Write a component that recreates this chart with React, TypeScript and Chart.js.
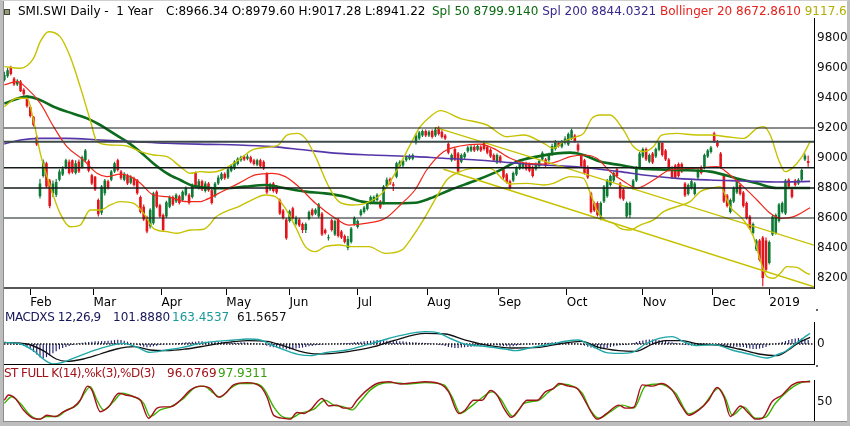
import React, { useEffect, useRef } from 'react';
import { Chart, registerables } from 'chart.js';
Chart.register(...registerables);

const FONT = 'DejaVu Sans';
const X_MIN = -0.1;
const X_MAX = 249.8;

const monthTickIdx = [8, 27.5, 48.5, 68.5, 88, 109, 130.5, 152.5, 173.5, 197, 218.5, 236];
const monthLabels = ['Feb', 'Mar', 'Apr', 'May', 'Jun', 'Jul', 'Aug', 'Sep', 'Oct', 'Nov', 'Dec', '2019'];
const priceTicks = [8200, 8400, 8600, 8800, 9000, 9200, 9400, 9600, 9800];
const macdTicks = [0];
const stochTicks = [50];
const levels = [9200, 9108, 8935, 8800, 8600];

const opens = [
  9520,9545,9605,9530,9490,9510,9455,9410,9340,9275,
  9140,8745,8880,8965,8850,8765,8755,8855,8890,8935,
  8975,8985,8900,8975,8940,8985,8980,8885,8875,8720,
  8635,8765,8845,8855,8910,8985,8910,8855,8885,8835,
  8865,8855,8740,8675,8605,8545,8565,8775,8685,8620,
  8610,8675,8740,8710,8745,8720,8755,8755,8740,8900,
  8800,8845,8780,8830,8785,8745,8830,8860,8895,8870,
  8915,8930,8960,8985,9010,8995,9005,8985,8955,8985,
  8975,8895,8790,8830,8810,8720,8650,8590,8580,8665,
  8560,8590,8560,8520,8595,8655,8630,8610,8630,8520,
  8465,8585,8490,8590,8510,8480,8400,8440,8560,8540,
  8620,8640,8660,8700,8710,8720,8710,8700,8810,8860,
  8825,8875,8945,8950,8985,8995,8995,9100,9130,9150,
  9180,9150,9180,9150,9200,9175,9150,9095,8985,9060,
  9030,8975,9005,9045,9050,9075,9055,9075,9105,9075,
  9055,9020,8970,9010,8925,8890,8845,8850,8890,8930,
  8935,8965,8960,8940,8925,8945,8990,8990,8985,9025,
  9060,9100,9075,9100,9090,9130,9150,9090,9020,8985,
  8940,8765,8700,8700,8610,8710,8745,8820,8850,8925,
  8830,8790,8610,8620,8800,8850,8935,9010,9060,8975,
  9030,9010,9055,9100,9050,8990,8935,8950,8960,8960,
  8830,8760,8800,8760,8870,8940,8935,9010,9040,9165,
  9110,9030,8880,8750,8640,8710,8770,8820,8770,8700,
  8610,8500,8390,8450,8470,8450,8300,8490,8500,8580,
  8640,8630,8855,8790,8850,8830,8855,8990,8979.6,
];
const highs = [
  9575,9600,9615,9540,9525,9520,9465,9420,9350,9280,
  9150,8860,8990,8975,8860,8850,8860,8925,8945,8995,
  8990,8990,8985,8990,9015,9060,8990,8895,8880,8730,
  8820,8860,8855,8920,8975,8995,8920,8905,8895,8885,
  8875,8860,8750,8690,8615,8665,8775,8785,8695,8630,
  8715,8750,8750,8765,8755,8785,8810,8765,8830,8910,
  8860,8855,8845,8840,8795,8840,8885,8905,8905,8935,
  8960,8985,9005,9015,9020,9025,9015,8995,8995,8995,
  8985,8905,8835,8840,8820,8730,8660,8600,8655,8675,
  8615,8600,8570,8570,8650,8665,8665,8700,8640,8530,
  8490,8595,8590,8600,8520,8490,8480,8540,8610,8590,
  8660,8680,8705,8750,8750,8765,8720,8820,8870,8870,
  8840,8975,8985,8990,9015,9025,9030,9165,9180,9190,
  9190,9185,9190,9205,9212,9185,9160,9105,9030,9070,
  9040,9030,9040,9080,9085,9085,9090,9085,9115,9085,
  9065,9030,9030,9020,8935,8900,8855,8910,8945,8970,
  8975,8975,8970,8950,8970,8990,9045,9000,9035,9095,
  9120,9110,9120,9145,9170,9195,9160,9100,9030,8995,
  8950,8775,8710,8710,8710,8820,8860,8890,8910,8935,
  8840,8800,8710,8710,8860,8945,9040,9070,9070,9030,
  9040,9070,9115,9110,9060,9000,8945,8960,8970,8970,
  8840,8830,8855,8840,8930,8950,9030,9060,9080,9175,
  9120,9040,8890,8760,8730,8810,8860,8830,8780,8710,
  8620,8570,8460,8460,8480,8470,8450,8620,8630,8700,
  8710,8860,8865,8800,8860,8865,8930,9030,9017.28,
];
const lows = [
  9510,9535,9550,9480,9480,9440,9415,9335,9270,9210,
  9080,8730,8870,8800,8665,8740,8740,8845,8880,8925,
  8890,8895,8890,8900,8930,8975,8905,8820,8780,8610,
  8620,8750,8790,8845,8900,8910,8855,8845,8820,8825,
  8810,8755,8630,8580,8498,8530,8555,8665,8600,8510,
  8600,8665,8680,8700,8690,8710,8745,8690,8730,8800,
  8790,8780,8770,8775,8690,8735,8820,8850,8855,8860,
  8905,8920,8950,8975,8980,8985,8965,8950,8945,8935,
  8920,8760,8780,8770,8760,8620,8590,8455,8570,8590,
  8550,8540,8500,8500,8585,8610,8620,8600,8480,8490,
  8450,8510,8480,8470,8460,8430,8385,8430,8550,8530,
  8610,8630,8650,8690,8700,8710,8660,8690,8800,8820,
  8780,8865,8935,8940,8975,8985,8985,9090,9120,9140,
  9140,9140,9130,9140,9150,9130,9120,9025,8975,8980,
  8900,8965,8995,9035,9040,9040,9045,9040,9050,9025,
  9000,8975,8960,8965,8860,8830,8790,8840,8880,8920,
  8925,8915,8905,8870,8915,8935,8980,8940,8975,9015,
  9050,9070,9065,9090,9080,9120,9100,9040,8935,8890,
  8860,8630,8640,8610,8585,8700,8735,8810,8840,8870,
  8725,8715,8600,8600,8790,8840,8925,9000,8980,8965,
  8960,9000,9045,9010,8980,8910,8860,8860,8870,8900,
  8740,8750,8790,8750,8860,8890,8925,9000,9030,9100,
  9070,8930,8700,8670,8630,8700,8760,8750,8670,8590,
  8520,8490,8380,8310,8145,8240,8290,8480,8490,8570,
  8630,8620,8800,8730,8810,8820,8845,8980,8941.22,
];
const closes = [
  9553,9585,9560,9490,9515,9445,9425,9345,9280,9220,
  9090,8830,8975,8810,8680,8830,8840,8910,8930,8985,
  8900,8905,8965,8910,9005,9050,8915,8830,8790,8625,
  8810,8850,8800,8910,8965,8920,8865,8895,8830,8875,
  8820,8765,8640,8590,8510,8655,8765,8675,8610,8520,
  8705,8740,8690,8755,8700,8775,8800,8700,8820,8810,
  8845,8790,8830,8785,8700,8830,8870,8895,8865,8925,
  8950,8975,8995,9005,8990,9010,8975,8960,8985,8945,
  8930,8770,8825,8780,8770,8630,8600,8465,8645,8600,
  8600,8550,8520,8560,8640,8620,8655,8690,8490,8500,
  8470,8520,8580,8480,8470,8440,8460,8530,8600,8580,
  8650,8670,8695,8740,8740,8755,8670,8810,8855,8830,
  8815,8965,8975,8980,9005,9015,9020,9150,9170,9180,
  9150,9175,9140,9190,9160,9140,9130,9035,9020,8990,
  8910,9020,9030,9070,9075,9050,9080,9050,9060,9035,
  9010,8985,9020,8975,8870,8840,8800,8900,8935,8960,
  8965,8925,8915,8880,8960,8980,9035,8950,9025,9080,
  9110,9080,9110,9130,9160,9185,9110,9050,8945,8900,
  8870,8640,8650,8620,8700,8810,8850,8880,8900,8880,
  8735,8725,8700,8700,8850,8935,9030,9060,8990,9020,
  8970,9060,9105,9020,8990,8920,8870,8870,8880,8910,
  8750,8820,8845,8830,8920,8900,9020,9050,9070,9110,
  9080,8940,8710,8680,8720,8800,8850,8760,8680,8600,
  8530,8560,8450,8320,8200,8255,8440,8610,8620,8690,
  8700,8850,8810,8740,8820,8855,8920,9015,8966.34,
];

const sma50 = [[0,9364],[7,9409],[11,9387],[15.2,9342],[19.3,9309],[25.5,9264],[29.6,9220],[33.7,9164],[37.8,9109],[41.9,9042],[46,8964],[50.2,8898],[54.3,8853],[58.4,8813],[63.5,8800],[68.2,8798],[74.3,8809],[80.5,8820],[86.7,8798],[92.9,8776],[99,8764],[105.2,8742],[110.4,8709],[117.6,8698],[126.8,8702],[131.4,8731],[137.5,8787],[145.8,8853],[152,8909],[158.1,8976],[164.3,9009],[170.5,9031],[174.6,9036],[178.7,9020],[183.8,8976],[190,8953],[196.2,8931],[207.5,8920],[217.8,8909],[226,8864],[232.2,8831],[238.3,8800],[248.6,8800]];
const sma200 = [[0,9093],[4.9,9120],[11.1,9131],[19.3,9131],[29.6,9120],[39.9,9109],[50.2,9098],[63.5,9091],[72.3,9087],[82.6,9076],[92.9,9053],[103.2,9031],[113.4,9020],[126.8,9009],[135.5,8998],[145.8,8987],[156.1,8969],[166.4,8953],[176.6,8942],[190,8909],[197.2,8887],[207.5,8864],[217.8,8853],[228,8847],[238.3,8840],[248.6,8844]];
const bbMid = [[0,9487],[3.9,9509],[7,9464],[11.1,9364],[15.2,9209],[19.3,9076],[24.4,8987],[28.6,8898],[31.6,8876],[35.8,8893],[38.9,8876],[42,8831],[46,8753],[50.2,8742],[56.3,8709],[60.5,8709],[62,8720],[66.1,8764],[72.3,8831],[77.4,8887],[82.6,8898],[86.7,8876],[90.8,8809],[96,8698],[102.1,8598],[106.2,8553],[111.4,8564],[117.6,8598],[122.7,8698],[126.8,8790],[130.3,8920],[135.5,9042],[140.6,9080],[146.8,9093],[150.9,9064],[156.1,8998],[161.2,8964],[167.4,8960],[170.5,8976],[174.6,9009],[178.7,9020],[182.8,8998],[186.9,8910],[192,8831],[195.1,8798],[200.3,8853],[205.4,8920],[212.6,8931],[219.8,8942],[223.9,8887],[228,8809],[232.2,8720],[236.3,8631],[239.4,8598],[243.5,8609],[248.6,8668]];
const bbUpper = [[0,9609],[4.9,9598],[9,9664],[11.1,9776],[13.6,9842],[17.2,9809],[20.3,9676],[23.4,9476],[26.5,9253],[28.6,9109],[32.7,9087],[37.8,9080],[42,9042],[46,9020],[50.2,9009],[54.3,8942],[57.4,8898],[60.5,8909],[63.5,8905],[67.1,8920],[72.3,8987],[76.4,9053],[82.6,9076],[84.6,9087],[87.2,9153],[90.3,9164],[92.9,9131],[96,9009],[100.1,8809],[103.2,8709],[107.3,8687],[111.4,8698],[116.5,8764],[121.7,8942],[125.2,9087],[128.3,9209],[131.4,9276],[134.5,9316],[140.6,9264],[148.9,9220],[155,9142],[160.2,9153],[166.4,9098],[169.4,9064],[172.5,9109],[176.6,9142],[178.7,9164],[181.3,9264],[183.8,9287],[186.9,9287],[191,9187],[194.1,9076],[197.2,9042],[200.3,9076],[202.8,9153],[207.5,9164],[213.6,9153],[217.8,9153],[222.9,9142],[228.1,9131],[232.2,9198],[234.2,9209],[236.3,9153],[238.9,8987],[240.9,8909],[243,8931],[246.1,9009],[248.6,9109]];
const bbLower = [[0,9342],[3.9,9398],[7,9398],[9,9253],[11.1,9031],[14.2,8809],[17.2,8631],[20.3,8542],[23.4,8553],[26.5,8653],[29.6,8653],[32.7,8687],[35.8,8709],[39.9,8698],[43,8631],[46,8531],[50.2,8509],[53.3,8498],[57.4,8520],[61.5,8525],[63.5,8560],[65.1,8604],[68.2,8642],[72.3,8676],[77.4,8731],[80.5,8753],[83.6,8742],[86.7,8664],[89.8,8542],[92.9,8409],[96,8376],[99,8409],[103.2,8420],[107.3,8409],[112.4,8409],[117.6,8364],[122.7,8387],[125.2,8453],[129.3,8587],[133.4,8742],[136.5,8853],[140.6,8909],[144.8,8931],[149.9,8931],[154,8853],[156.1,8827],[161.2,8831],[166.4,8820],[169.4,8831],[174.6,8876],[178.7,8864],[180.8,8764],[182.8,8653],[184.9,8591],[188,8564],[190,8531],[193.1,8520],[196.2,8553],[200.3,8587],[203.4,8642],[207.5,8676],[211.6,8709],[214.7,8776],[217.8,8798],[220.9,8809],[223.9,8676],[228,8587],[231.1,8476],[233.2,8320],[235.3,8209],[237.3,8198],[239.4,8231],[241.4,8276],[244.5,8271],[247.6,8231],[248.6,8224]];
const trendUpper = [[133, 9204], [249.8, 8419]];
const trendLower = [[135.5, 8925], [249.8, 8141]];

const macdLine = [[0,25],[5,0],[9,-101],[12,-228],[15,-304],[18,-279],[22,-203],[27.5,-101],[32.7,-25],[36.8,10],[41,-51],[45,-127],[50,-91],[55,-51],[60.5,10],[65.6,41],[70.8,61],[75,76],[79,61],[83,-25],[87,-101],[91,-162],[94.4,-177],[99.5,-127],[105.7,-91],[112,-10],[117,61],[122,127],[129.9,188],[134,167],[138,76],[142,0],[148,-35],[154.6,-76],[157.7,-101],[162.8,-51],[169,0],[173,41],[177,61],[181,-25],[185.5,-127],[189.6,-142],[193.7,-127],[197.8,0],[202,86],[206,112],[210,25],[214,-25],[219,-10],[224.5,-91],[229.7,-152],[235.3,-213],[239,-152],[241,-110],[244,0],[246.5,90],[248.6,163]];
const signalLine = [[0,25],[7,0],[12,-101],[16,-228],[19.3,-264],[24.4,-228],[29.6,-152],[34.7,-76],[40,-41],[45,-91],[50,-101],[56,-76],[62.5,-25],[68.7,25],[75,51],[81,41],[86,-25],[91.3,-112],[96.5,-152],[101.6,-142],[107.8,-101],[114,-41],[120,51],[129.9,160],[136,152],[142,61],[148,-10],[156.7,-61],[165,-51],[171,0],[178,41],[183.4,-51],[189.6,-101],[194.7,-112],[200,0],[204,51],[209,51],[214,0],[220,-15],[226.6,-76],[232.8,-152],[238.4,-177],[241.9,-91],[245,20],[248.6,100]];
const macdHist = [
  0,-3,-5,-8,-10,-15,-30,-50,-80,-120,
  -160,-200,-220,-200,-170,-140,-110,-80,-60,-45,
  -30,-15,-5,10,20,25,30,35,40,40,
  45,45,50,55,60,66,60,50,35,20,
  5,-10,-25,-40,-50,-45,-35,-25,-15,-10,
  -5,0,5,10,15,20,25,30,35,35,
  40,40,35,35,30,30,35,35,30,25,
  25,20,20,25,25,20,15,10,5,0,
  -10,-25,-40,-50,-55,-60,-70,-80,-80,-75,
  -70,-60,-55,-45,-35,-30,-20,-15,-10,-5,
  0,5,5,5,10,10,15,20,25,30,
  35,40,45,50,55,60,60,55,50,50,
  50,45,40,40,35,30,25,25,20,20,
  15,10,5,0,-10,-20,-30,-45,-55,-60,
  -60,-55,-50,-45,-40,-35,-30,-30,-25,-25,
  -20,-20,-20,-25,-30,-35,-40,-35,-25,-15,
  -5,0,5,10,10,15,15,20,20,25,
  30,30,25,20,20,15,10,0,-10,-25,
  -40,-55,-65,-75,-80,-70,-60,-45,-35,-25,
  -20,-15,-10,0,15,30,45,55,65,70,
  70,65,60,55,45,35,25,15,5,-5,
  -15,-20,-25,-25,-25,-20,-15,-10,-10,-5,
  -10,-15,-25,-30,-35,-40,-40,-45,-45,-60,
  -70,-75,-75,-70,-60,-45,-20,-5,10,20,
  30,45,60,75,85,90,85,75,62,
];

const stochK = [[0,54],[1.3,66],[3.4,58],[5.9,32],[9,13],[11.1,11],[13.1,20],[15.7,17],[18.3,28],[21.4,39],[23.4,54],[25.7,86],[27,77],[29.6,28],[32.2,39],[35.3,70],[37.3,66],[39.9,62],[42,54],[44.5,13],[47.1,36],[49.1,39],[51.2,39],[54.3,54],[57.4,77],[60.5,86],[63.5,81],[66.1,61],[68.7,73],[70.7,89],[74.9,94],[79,85],[81,62],[83.1,20],[86.2,13],[88.2,11],[90.3,26],[92.4,24],[94.4,32],[98,58],[100.1,41],[102.6,43],[104.7,36],[106.8,36],[108.8,54],[111.9,77],[115,92],[118.6,96],[122.2,91],[126.3,94],[129.9,96],[135,89],[137.1,73],[140.2,24],[142.2,32],[144.8,54],[147.4,54],[150,76],[152,66],[154.1,36],[156.4,15],[158.7,32],[161.3,54],[164.4,54],[166.9,73],[169.5,81],[171.1,92],[174.1,86],[176.7,81],[179.3,51],[181.3,24],[182.9,11],[185.9,24],[189.6,43],[191.6,36],[194.2,38],[196.8,89],[199.9,86],[202.9,92],[206,77],[209.1,39],[211.2,20],[214.3,32],[217.3,54],[219.9,83],[222,62],[224,17],[227.1,41],[229.7,24],[231.8,11],[233.8,13],[236.9,51],[240,66],[243.1,89],[246.2,96],[248.6,96]];
const stochD = [[0,47],[2.3,62],[4.9,47],[8,20],[10.6,11],[13.1,17],[16.2,17],[19.3,32],[22.4,43],[25,73],[26.5,85],[28.6,54],[30.6,32],[33.7,51],[36.3,70],[39.9,62],[43,47],[45,17],[48.1,32],[51.2,39],[55.3,58],[58.4,81],[61.5,86],[64.6,70],[66.6,61],[69.7,81],[72.8,92],[76.9,92],[80,81],[83.1,39],[85.7,17],[88.2,13],[91.3,24],[95.4,33],[99,54],[101.6,43],[104.7,39],[107.3,32],[109.8,51],[112.9,77],[116,91],[120.1,94],[124.2,91],[129.9,94],[135.6,89],[138.1,62],[140.7,24],[143.8,39],[146.4,54],[150.5,73],[153,58],[156.9,17],[160.3,47],[164.9,54],[168,73],[172.1,91],[175.7,85],[178.3,70],[180.8,32],[183.4,13],[187,28],[190.6,43],[194.2,36],[197.8,86],[201.9,91],[207.1,70],[211.2,23],[215.3,39],[220.4,81],[222.5,58],[224.6,20],[228.1,39],[231.8,13],[234.8,15],[237.9,47],[242,77],[245.1,92],[248.6,98]];

const UP = '#0e7a35';
const DOWN = '#e4141c';
const OLIVE = '#c6c200';

const pts = (arr: number[][]) => arr.map(([x, y]) => ({ x, y }));

const zeroPad = (s: any) => {
  s.paddingTop = 0; s.paddingBottom = 0; s.paddingLeft = 0; s.paddingRight = 0;
};

function rightAxis(min: number, max: number, ticks: number[]) {
  return {
    type: 'linear', position: 'right', min, max,
    afterBuildTicks: (s: any) => { s.ticks = ticks.map((v) => ({ value: v })); },
    afterFit: (s: any) => { s.width = 36; zeroPad(s); },
    grid: { display: false, drawTicks: false },
    border: { display: true, color: '#000', width: 1 },
    ticks: { padding: 3, color: '#111', font: { family: FONT, size: 12 }, callback: (v: any) => String(v) },
  };
}

function hiddenX(showBorder: boolean) {
  return {
    type: 'linear', min: X_MIN, max: X_MAX, offset: false,
    display: showBorder,
    afterFit: (s: any) => { s.height = 0; zeroPad(s); },
    grid: { display: false, drawTicks: false, offset: false },
    border: { display: showBorder, color: '#000', width: 1 },
    ticks: { display: false },
  };
}

function line(data: number[][], color: string, width: number, order = 1, extra: any = {}) {
  return {
    type: 'line', data: pts(data), borderColor: color, borderWidth: width,
    pointRadius: 0, cubicInterpolationMode: 'monotone', fill: false, order, ...extra,
  };
}

const baseOpts = {
  responsive: false, maintainAspectRatio: false, animation: false, events: [],
  plugins: { legend: { display: false }, tooltip: { enabled: false } },
};

export default function App() {
  const mainRef = useRef<HTMLCanvasElement>(null);
  const macdRef = useRef<HTMLCanvasElement>(null);
  const stochRef = useRef<HTMLCanvasElement>(null);

  useEffect(() => {
    document.body.style.margin = '0';
    Chart.defaults.font.family = FONT;
    const candleColor = (ctx: any) => (closes[ctx.dataIndex] >= opens[ctx.dataIndex] ? UP : DOWN);

    const main = new Chart(mainRef.current as HTMLCanvasElement, {
      type: 'line',
      data: {
        datasets: [
          ...levels.map((lv, k) => ({
            type: 'line', data: [{ x: X_MIN, y: lv }, { x: X_MAX, y: lv }],
            borderColor: k === 1 ? '#3e4a4a' : '#141a1a', borderWidth: k === 1 ? 2 : (k === 2 || k === 3 ? 1.5 : 1.2),
            pointRadius: 0, order: 2,
          })),
          line(trendUpper, OLIVE, 1.4, 3, { cubicInterpolationMode: 'default', tension: 0 }),
          line(trendLower, OLIVE, 1.4, 3, { cubicInterpolationMode: 'default', tension: 0 }),
          line(bbUpper, OLIVE, 1.4, 3),
          line(bbLower, OLIVE, 1.4, 3),
          line(bbMid, '#f0281c', 1.2, 3),
          line(sma200, '#5436a8', 1.6, 3),
          line(sma50, '#0d6b1e', 2.6, 3),
          {
            type: 'bar', data: closes.map((_, i) => ({ x: i, y: [lows[i], highs[i]] })),
            backgroundColor: candleColor, borderWidth: 0, grouped: false,
            categoryPercentage: 1, barPercentage: 0.36, order: 20,
          },
          {
            type: 'bar', data: closes.map((c, i) => ({ x: i, y: [opens[i], c] })),
            backgroundColor: candleColor, borderWidth: 0, grouped: false, minBarLength: 1,
            categoryPercentage: 1, barPercentage: 0.8, order: 19,
          },
        ] as any,
      },
      options: {
        ...baseOpts,
        layout: { padding: { left: 4, top: 18, right: 0, bottom: 0 } },
        scales: {
          x: {
            type: 'linear', min: X_MIN, max: X_MAX, offset: false,
            afterBuildTicks: (s: any) => { s.ticks = monthTickIdx.map((v) => ({ value: v })); },
            afterFit: (s: any) => { s.height = 24; zeroPad(s); },
            grid: { display: true, drawOnChartArea: false, drawTicks: true, tickLength: 7, color: '#000', lineWidth: 1, offset: false },
            border: { display: true, color: '#555', width: 2 },
            ticks: {
              autoSkip: false, maxRotation: 0, minRotation: 0, align: 'start', padding: 1,
              color: '#000', font: { family: FONT, size: 12 },
              callback: (_v: any, i: number) => monthLabels[i],
            },
          },
          y: rightAxis(8133.3, 9933.3, priceTicks),
        },
      } as any,
    });

    const macd = new Chart(macdRef.current as HTMLCanvasElement, {
      type: 'line',
      data: {
        datasets: [
          {
            type: 'bar', data: macdHist.map((v, i) => ({ x: i, y: v })),
            backgroundColor: '#22226e', borderWidth: 0, grouped: false,
            categoryPercentage: 1, barPercentage: 0.36, order: 20,
          },
          {
            type: 'line', data: [{ x: X_MIN, y: 0 }, { x: X_MAX, y: 0 }],
            borderColor: '#111', borderWidth: 1.4, borderDash: [1.5, 1.5], pointRadius: 0, order: 5,
          },
          line(signalLine, '#111', 1.3, 2),
          line(macdLine, '#1fa6a6', 1.4, 1),
        ] as any,
      },
      options: {
        ...baseOpts,
        layout: { padding: { left: 4, top: 22, right: 0, bottom: 6 } },
        scales: { x: hiddenX(true), y: rightAxis(-304, 334.4, macdTicks) },
      } as any,
    });

    const stoch = new Chart(stochRef.current as HTMLCanvasElement, {
      type: 'line',
      data: {
        datasets: [
          line(stochD, '#38b400', 1.4, 2),
          line(stochK, '#a3121a', 1.4, 1),
        ] as any,
      },
      options: {
        ...baseOpts,
        layout: { padding: { left: 4, top: 12, right: 0, bottom: 2 } },
        scales: { x: hiddenX(false), y: rightAxis(0, 100, stochTicks) },
      } as any,
    });

    return () => { main.destroy(); macd.destroy(); stoch.destroy(); };
  }, []);

  const txt = (left: number, top: number, color: string, text: string, extra: any = {}) => (
    <span style={{ position: 'absolute', left, top, color, whiteSpace: 'pre', ...extra }}>{text}</span>
  );

  return (
    <div style={{ position: 'relative', width: 850, height: 426, overflow: 'hidden', background: '#fff', fontFamily: FONT, fontSize: 12, lineHeight: '14px' }}>
      <canvas ref={mainRef} width={850} height={312} style={{ position: 'absolute', left: 0, top: 0 }} />
      <canvas ref={macdRef} width={850} height={70} style={{ position: 'absolute', left: 0, top: 300 }} />
      <canvas ref={stochRef} width={850} height={58} style={{ position: 'absolute', left: 0, top: 368 }} />

      <div style={{ position: 'absolute', left: 4, top: 9, width: 4, height: 4, background: '#9a9a70', border: '1px solid #444' }} />
      {txt(18, 4, '#000', 'SMI.SWI Daily -  1 Year')}
      {txt(166, 4, '#000', 'C:8966.34 O:8979.60 H:9017.28 L:8941.22')}
      <span style={{ position: 'absolute', left: 432, top: 4, whiteSpace: 'pre' }}>
        <span style={{ color: '#0a6a10' }}>Spl 50 8799.9140 </span>
        <span style={{ color: '#38288a' }}>Spl 200 8844.0321 </span>
        <span style={{ color: '#e8201c' }}>Bollinger 20 8672.8610 </span>
        <span style={{ color: '#b2ae00' }}>9117.6</span>
      </span>

      {txt(5, 310, '#16165a', 'MACDXS 12,26,9', { letterSpacing: '-0.4px' })}
      {txt(113, 310, '#16165a', '101.8880')}
      {txt(172, 310, '#1a9a9a', '163.4537')}
      {txt(237, 310, '#111', '61.5657')}

      {txt(4, 366, '#a3121a', 'ST FULL K(14),%k(3),%D(3)', { letterSpacing: '-0.55px' })}
      {txt(167, 366, '#a3121a', '96.0769')}
      {txt(218, 366, '#38a010', '97.9311')}

      <div style={{ position: 'absolute', left: 816, top: 309, width: 2, height: 2, background: '#333', borderRadius: 1 }} />
      <div style={{ position: 'absolute', left: 816, top: 365, width: 2, height: 2, background: '#333', borderRadius: 1 }} />

      <div style={{
        position: 'absolute', left: 0, top: 0, width: 850, height: 426, boxSizing: 'border-box', pointerEvents: 'none',
        borderLeft: '3px solid #bdbdbd', borderRight: '3px solid #bdbdbd', borderBottom: '4px solid #bdbdbd', borderTop: '1px solid #cfcfcf',
        boxShadow: 'inset 1px 0 0 #8c8c8c, inset 0 -1px 0 #8c8c8c',
      }} />
    </div>
  );
}
